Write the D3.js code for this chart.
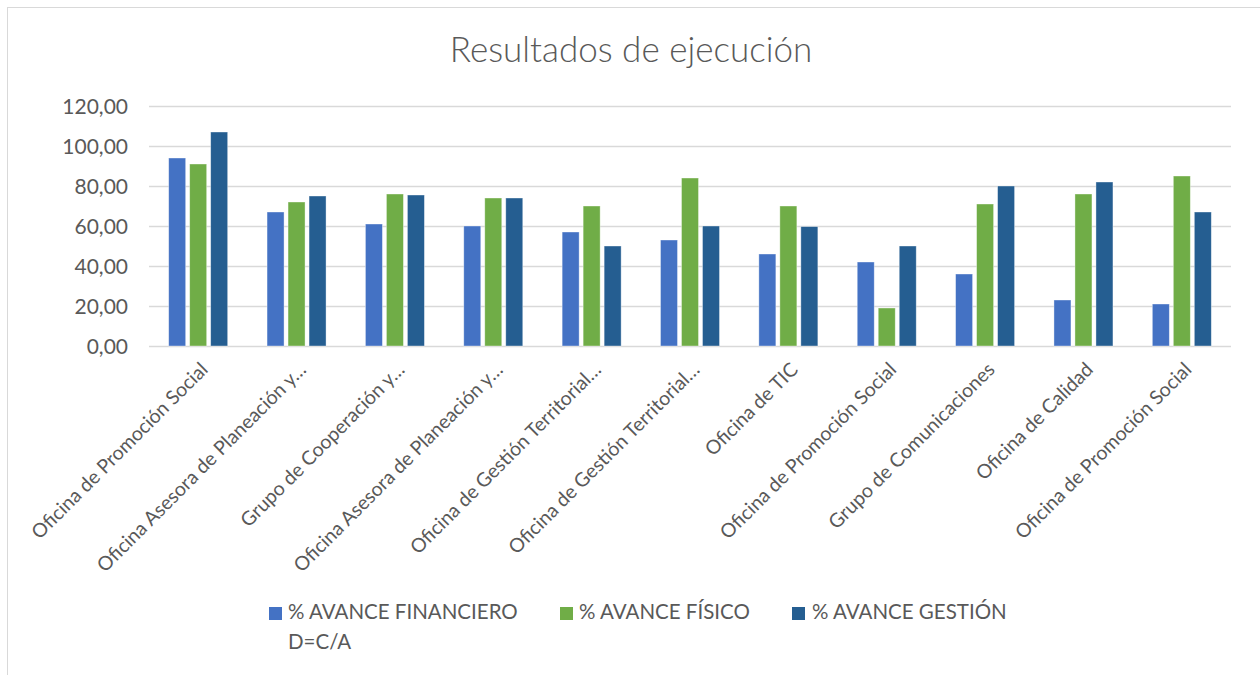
<!DOCTYPE html>
<html><head><meta charset="utf-8">
<script src="https://cdn.jsdelivr.net/npm/d3@7"></script>
<style>body{margin:0;background:#fff;} svg{display:block;font-family:Lato, "Open Sans", sans-serif;}</style>
</head><body>
<svg id="chart" width="1260" height="675"></svg>
<script>
const categories = ["Oficina de Promoción Social","Oficina Asesora de Planeación y…","Grupo de Cooperación y…","Oficina Asesora de Planeación y…","Oficina de Gestión Territorial…","Oficina de Gestión Territorial…","Oficina de TIC","Oficina de Promoción Social","Grupo de Comunicaciones","Oficina de Calidad","Oficina de Promoción Social"];
const seriesNames = ["% AVANCE FINANCIERO D=C/A","% AVANCE FÍSICO","% AVANCE GESTIÓN"];
const financiero = [94,67,61,60,57,53,46,42,36,23,21];
const fisico = [91,72,76,74,70,84,70,19,71,76,85];
const gestion = [107,75,75.5,74,50,60,59.7,50,80,82,67];
const yTicks = [0,20,40,60,80,100,120];
const colors = ["#4472C4","#70AD47","#255E91"];
const series = [financiero, fisico, gestion];

const svg = d3.select("#chart");
svg.append("rect").attr("x",7.5).attr("y",7.5).attr("width",1270).attr("height",680)
  .attr("fill","#fff").attr("stroke","#d9d9d9").attr("stroke-width",1);

svg.append("text").attr("x",631).attr("y",62).attr("text-anchor","middle")
  .attr("font-size",35).attr("font-weight",300).attr("fill","#595959").text("Resultados de ejecución");

const x0 = d3.scaleBand().domain(d3.range(categories.length)).range([149,1231]).paddingInner(0).paddingOuter(0);
const y = d3.scaleLinear().domain([0,120]).range([346,106]);

// gridlines
svg.append("g").selectAll("line").data(yTicks).join("line")
  .attr("x1",149).attr("x2",1231).attr("y1",d=>Math.round(y(d))+0.5).attr("y2",d=>Math.round(y(d))+0.5)
  .attr("stroke","#d9d9d9").attr("stroke-width",1.3);

// y labels
const fmt = d => d3.format(".2f")(d).replace(".",",");
svg.append("g").selectAll("text").data(yTicks).join("text")
  .attr("x",128).attr("y",d=>y(d)).attr("dy","0.36em").attr("text-anchor","end")
  .attr("font-size",21).attr("fill","#595959").text(fmt);

const bw = 17, gap = 4;
const groupW = 3*bw + 2*gap;
series.forEach((vals,si)=>{
  svg.append("g").selectAll("rect").data(vals).join("rect")
    .attr("x",(d,i)=>x0(i)+x0.bandwidth()/2 - groupW/2 + si*(bw+gap))
    .attr("y",d=>y(d)).attr("width",bw).attr("height",d=>y(0)-y(d))
    .attr("fill",colors[si]).attr("stroke","#fff").attr("stroke-opacity",0.5).attr("stroke-width",0.75);
});

// x labels
svg.append("g").selectAll("text").data(categories).join("text")
  .attr("transform",(d,i)=>`translate(${x0(i)+x0.bandwidth()/2+6},${366}) rotate(-45)`)
  .attr("text-anchor","end").attr("dy","0.35em")
  .attr("font-size",19.5).attr("fill","#595959").text(d=>d);

// legend
const legend = [
  {x:269, tx:288, lines:["% AVANCE FINANCIERO","D=C/A"]},
  {x:560, tx:579, lines:["% AVANCE FÍSICO"]},
  {x:792, tx:812, lines:["% AVANCE GESTIÓN"]}
];
legend.forEach((l,i)=>{
  svg.append("rect").attr("x",l.x).attr("y",607).attr("width",13).attr("height",13).attr("fill",colors[i]);
  const t = svg.append("text").attr("x",l.tx).attr("y",619).attr("font-size",20.5).attr("fill","#595959");
  l.lines.forEach((s,j)=>t.append("tspan").attr("x",l.tx).attr("dy",j?30:0).text(s));
});
</script>
</body></html>
